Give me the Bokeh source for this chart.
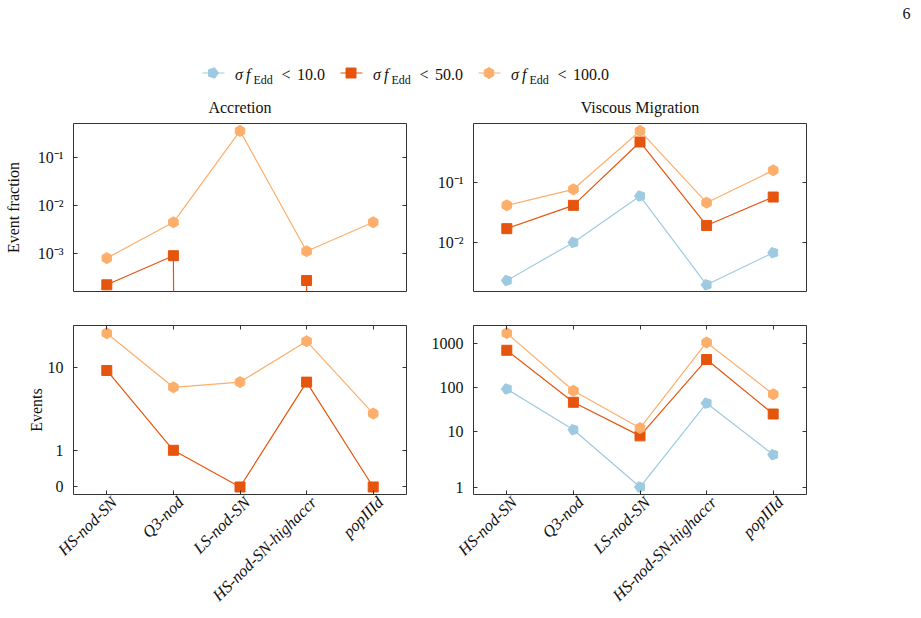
import numpy as np
from bokeh.plotting import figure
from bokeh.models import (Range1d, FixedTicker, LinearAxis, LogAxis,
                          CustomJSTickFormatter)
from bokeh.layouts import column, row
from bokeh.core.properties import value
from bokeh.embed import file_html
from bokeh.resources import INLINE

# ---------------------------------------------------------------- data
models = ["HS-nod-SN", "Q3-nod", "LS-nod-SN", "HS-nod-SN-highaccr", "popIIId"]
thresholds = ["10.0", "50.0", "100.0"]

# Accretion (no events below the 10.0 threshold)
acc_frac_50 = [2.26e-4, 9.1e-4, 0.0, 2.78e-4, 0.0]
acc_frac_100 = [8.1e-4, 4.5e-3, 0.358, 1.13e-3, 4.5e-3]
acc_events_50 = [9, 1, 0, 6, 0]
acc_events_100 = [33, 5, 6, 25, 2]

# Viscous migration
vm_frac_10 = [2.34e-3, 1.0e-2, 0.0586, 1.99e-3, 6.75e-3]
vm_frac_50 = [0.0169, 0.0411, 0.46, 0.0191, 0.0564]
vm_frac_100 = [0.0411, 0.0757, 0.70, 0.0455, 0.156]
vm_events_10 = [92, 11, 1, 44, 3]
vm_events_50 = [693, 46, 8, 427, 25]
vm_events_100 = [1690, 84, 12, 1040, 70]

acc_frac_ticks = [1e-3, 1e-2, 1e-1]
acc_frac_labels = ["10⁻³", "10⁻²", "10⁻¹"]
vm_frac_ticks = [1e-2, 1e-1]
vm_frac_labels = ["10⁻²", "10⁻¹"]
acc_event_ticks = [0, 1, 10]
vm_event_ticks = [1, 10, 100, 1000]

# ---------------------------------------------------------------- style
BLUE, DARK, LIGHT = "#9ecae1", "#e6550d", "#fdae6b"
FRAME = "#333333"
TEXT = "#111111"
FONT = "Liberation Serif"
FS = "16px"
XFS = "16.5px"
LABEL_SHIFT = 0.11   # rotated category labels sit slightly right of their tick

X = np.arange(len(models))


def symlog(v, linthresh=2.0, base=10.0, linscale=1.0):
    """Symmetric log transform (linear below linthresh, log above)."""
    v = np.asarray(v, dtype=float)
    adj = linscale / (1.0 - 1.0 / base)
    a = np.abs(v)
    logpart = np.sign(v) * linthresh * (adj + np.log(np.maximum(a, 1e-300) / linthresh) / np.log(base))
    return np.where(a <= linthresh, v * adj, logpart)


def labels_formatter(labels):
    return CustomJSTickFormatter(args=dict(labels=labels), code="return labels[index];")


def style_axis(ax, ticks, labels=None, tick_len=4):
    ax.ticker = FixedTicker(ticks=list(ticks), minor_ticks=[])
    ax.major_tick_in = tick_len
    ax.major_tick_out = 0
    ax.major_tick_line_color = FRAME if tick_len else None
    ax.major_tick_line_width = 1
    ax.minor_tick_line_color = None
    ax.axis_line_color = None
    if labels is None:
        ax.formatter = CustomJSTickFormatter(code="return '';")
        ax.major_label_text_font_size = "0px"
        ax.major_label_standoff = 0
    else:
        ax.formatter = labels_formatter(labels)
        ax.major_label_text_font = FONT
        ax.major_label_text_font_size = FS
        ax.major_label_text_color = TEXT
        ax.major_label_standoff = 10


def panel(width, height, borders, y_type, y_range):
    left, right, top, bottom = borders
    p = figure(width=width, height=height,
               x_range=Range1d(-0.5, 4.5), y_range=y_range,
               y_axis_type=y_type, x_axis_location=None,
               toolbar_location=None, output_backend="svg",
               min_border_left=left, min_border_right=right,
               min_border_top=top, min_border_bottom=bottom)
    p.grid.visible = False
    p.outline_line_color = FRAME
    p.outline_line_width = 1
    p.background_fill_color = "white"
    p.border_fill_color = "white"
    return p


def add_y_axes(p, ticks, labels, log, title, title_standoff):
    ax = p.yaxis[0]
    style_axis(ax, ticks, labels)
    ax.axis_label = title
    ax.axis_label_text_font = FONT
    ax.axis_label_text_font_size = FS
    ax.axis_label_text_font_style = "normal"
    ax.axis_label_text_color = TEXT
    ax.axis_label_standoff = title_standoff
    right = LogAxis() if log else LinearAxis()
    style_axis(right, ticks, None)
    p.add_layout(right, "right")


def add_x_axes(p):
    # tick marks on the bottom edge
    ticks_below = LinearAxis()
    style_axis(ticks_below, X, None)
    p.add_layout(ticks_below, "below")
    # rotated model names
    names = LinearAxis()
    style_axis(names, X + LABEL_SHIFT, models, tick_len=0)
    names.major_label_orientation = np.pi / 4
    names.major_label_text_font_style = "italic"
    names.major_label_text_font_size = XFS
    names.major_label_standoff = 5
    p.add_layout(names, "below")
    # tick marks on the top edge
    top = LinearAxis()
    style_axis(top, X, None)
    p.add_layout(top, "above")


def draw(p, ys, color, marker, line_ys=None):
    ys = np.asarray(ys, dtype=float)
    p.line(X, ys if line_ys is None else line_ys, line_color=color, line_width=1.2)
    keep = np.isfinite(ys)
    xs, yv = X[keep], ys[keep]
    if marker == "pentagon":
        p.ngon(x=xs, y=yv, radius=5.5, radius_units="screen", n=5, angle=np.pi / 2,
               fill_color=color, line_color=color, line_width=1)
    elif marker == "hex":
        p.scatter(xs, yv, marker="hex", size=11, angle=np.pi / 2,
                  fill_color=color, line_color=color)
    else:
        p.scatter(xs, yv, marker="square", size=10, fill_color=color, line_color=color)


def log_series(v):
    """Values for a log axis: zeros are dropped from markers, clipped for the line."""
    v = np.asarray(v, dtype=float)
    marks = np.where(v > 0, v, np.nan)
    line = np.where(v > 0, v, 1e-300)
    return marks, line


# ---------------------------------------------------------------- header
W, H_HEAD = 921, 117
head = figure(width=W, height=H_HEAD, x_range=Range1d(0, W), y_range=Range1d(H_HEAD, 0),
              x_axis_location=None, y_axis_location=None, toolbar_location=None,
              output_backend="svg", min_border=0, outline_line_color=None)
head.grid.visible = False

legend_x0 = [202, 340, 478]
legend_colors = [BLUE, DARK, LIGHT]
legend_markers = ["pentagon", "square", "hex"]
ly = 72.5
tb = 74.0     # text baseline
sb = 79.5     # subscript baseline
for x0, lab, col, mk in zip(legend_x0, thresholds, legend_colors, legend_markers):
    head.segment(x0=[x0], y0=[ly], x1=[x0 + 22], y1=[ly], line_color=col, line_width=1.2)
    if mk == "pentagon":
        head.ngon(x=[x0 + 10.5], y=[ly], radius=5.5, radius_units="screen", n=5, angle=-np.pi / 2,
                  fill_color=col, line_color=col)
    elif mk == "hex":
        head.scatter([x0 + 10.5], [ly], marker="hex", size=11, angle=np.pi / 2,
                     fill_color=col, line_color=col)
    else:
        head.scatter([x0 + 10.5], [ly], marker="square", size=10, fill_color=col, line_color=col)
    sx = x0 + 32.5
    head.text([sx], [tb], text=["σ"], text_font=value(FONT), text_font_size=FS,
              text_font_style="italic", text_color=TEXT, text_baseline="alphabetic")
    head.text([sx + 11.0], [tb], text=["f"], text_font=value(FONT), text_font_size=FS,
              text_font_style="italic", text_color=TEXT, text_baseline="alphabetic")
    head.text([sx + 18.5], [sb], text=["Edd"], text_font=value(FONT), text_font_size="12px",
              text_color=TEXT, text_baseline="alphabetic")
    head.text([sx + 46.5], [tb], text=["<"], text_font=value(FONT), text_font_size=FS,
              text_color=TEXT, text_baseline="alphabetic")
    head.text([sx + 62.0], [tb], text=[lab], text_font=value(FONT), text_font_size=FS,
              text_color=TEXT, text_baseline="alphabetic")

head.text([239.5, 639.5], [107, 107], text=["Accretion", "Viscous Migration"],
          text_font=value(FONT), text_font_size=FS, text_color=TEXT,
          text_align="center", text_baseline="alphabetic")
head.text([906], [13], text=["6"], text_font=value(FONT), text_font_size=FS,
          text_color=TEXT, text_align="center", text_baseline="alphabetic")

# ---------------------------------------------------------------- panels
LEFT_W, RIGHT_W = 420, 501
TOP_H, BOT_H = 191, 310
LEFT_B = (73, 14, 6, 17)
RIGHT_B = (53, 115, 6, 17)
LEFT_BB = (73, 14, 17, 124)
RIGHT_BB = (53, 115, 17, 124)

# Accretion: event fraction
tl = panel(LEFT_W, TOP_H, LEFT_B, "log", Range1d(1.64e-4, 0.51))
add_y_axes(tl, acc_frac_ticks, acc_frac_labels, True, "Event fraction", 13)
m, l = log_series(acc_frac_50)
draw(tl, m, DARK, "square", l)
m, l = log_series(acc_frac_100)
draw(tl, m, LIGHT, "hex", l)

# Viscous migration: event fraction
tr = panel(RIGHT_W, TOP_H, RIGHT_B, "log", Range1d(1.54e-3, 0.93))
add_y_axes(tr, vm_frac_ticks, vm_frac_labels, True, None, 5)
for ys, col, mk in [(vm_frac_10, BLUE, "pentagon"), (vm_frac_50, DARK, "square"),
                    (vm_frac_100, LIGHT, "hex")]:
    m, l = log_series(ys)
    draw(tr, m, col, mk, l)

# Accretion: events (symmetric log axis)
bl = panel(LEFT_W, BOT_H, LEFT_BB, "linear", Range1d(*symlog([-0.205, 43.2])))
add_y_axes(bl, symlog(acc_event_ticks), [str(t) for t in acc_event_ticks], False, "Events", 0)
add_x_axes(bl)
draw(bl, symlog(acc_events_50), DARK, "square")
draw(bl, symlog(acc_events_100), LIGHT, "hex")

# Viscous migration: events (symmetric log axis)
br = panel(RIGHT_W, BOT_H, RIGHT_BB, "linear", Range1d(*symlog([0.695, 2520])))
add_y_axes(br, symlog(vm_event_ticks), [str(t) for t in vm_event_ticks], False, None, 5)
add_x_axes(br)
draw(br, symlog(vm_events_10), BLUE, "pentagon")
draw(br, symlog(vm_events_50), DARK, "square")
draw(br, symlog(vm_events_100), LIGHT, "hex")

layout = column(head, row(tl, tr), row(bl, br))
open("out.html", "w").write(file_html(layout, INLINE))
